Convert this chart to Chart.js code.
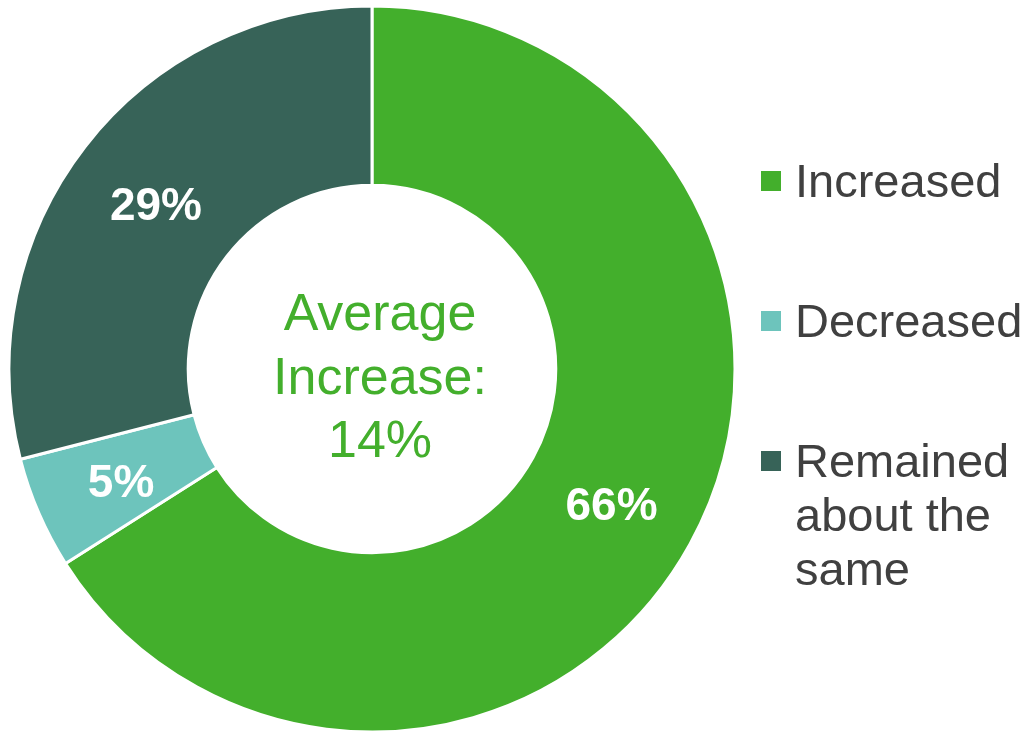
<!DOCTYPE html>
<html>
<head>
<meta charset="utf-8">
<script src="https://cdn.jsdelivr.net/npm/chart.js@4/dist/chart.umd.min.js"></script>
<style>
  body { margin: 0; background: #fff; }
  #wrap { width: 1027px; height: 732px; position: relative; }
</style>
</head>
<body>
<div id="wrap"><canvas id="donut" width="1027" height="732"></canvas></div>
<script>
const categories = ['Increased', 'Decreased', 'Remained about the same'];
const shares = [66, 5, 29];
const sliceColors = ['#43AF2C', '#6DC4BC', '#376358'];
const centerLines = ['Average', 'Increase:', '14%'];

const FONT = '"Liberation Sans", Arial, sans-serif';

// white bold percentage in the middle of each slice
const sliceLabels = {
    id: 'sliceLabels',
    afterDatasetsDraw(chart) {
        const ctx = chart.ctx;
        const arcs = chart.getDatasetMeta(0).data;
        ctx.save();
        ctx.fillStyle = '#fff';
        ctx.font = 'bold 46px ' + FONT;
        ctx.textAlign = 'center';
        ctx.textBaseline = 'alphabetic';
        arcs.forEach((arc, i) => {
            const p = arc.getCenterPoint();
            ctx.fillText(shares[i] + '%', p.x, p.y + 19);
        });
        ctx.restore();
    }
};

// text inside the hole (sits a little right of centre)
const centerText = {
    id: 'centerText',
    afterDatasetsDraw(chart) {
        const ctx = chart.ctx;
        const arc = chart.getDatasetMeta(0).data[0];
        ctx.save();
        ctx.fillStyle = '#43AF2C';
        ctx.font = '52px ' + FONT;
        ctx.textAlign = 'center';
        ctx.textBaseline = 'alphabetic';
        centerLines.forEach((line, i) => {
            ctx.fillText(line, arc.x + 8, arc.y - 39 + i * 63.5);
        });
        ctx.restore();
    }
};

// legend on the right, long labels wrap
function wrapText(ctx, text, maxWidth) {
    const words = text.split(' ');
    const lines = [];
    let cur = '';
    words.forEach(w => {
        const test = cur ? cur + ' ' + w : w;
        if (cur && ctx.measureText(test).width > maxWidth) {
            lines.push(cur);
            cur = w;
        } else {
            cur = test;
        }
    });
    if (cur) lines.push(cur);
    return lines;
}

const sideLegend = {
    id: 'sideLegend',
    afterDraw(chart) {
        const ctx = chart.ctx;
        const x0 = 761, textX = 795, firstBase = 197, step = 140, lineH = 54;
        ctx.save();
        ctx.font = '47px ' + FONT;
        ctx.textBaseline = 'alphabetic';
        chart.data.labels.forEach((label, i) => {
            const base = firstBase + i * step;
            ctx.fillStyle = chart.data.datasets[0].backgroundColor[i];
            ctx.fillRect(x0, base - 26, 20, 20);
            ctx.fillStyle = '#404040';
            wrapText(ctx, label, 1027 - textX - 2).forEach((line, j) => {
                ctx.fillText(line, textX, base + j * lineH);
            });
        });
        ctx.restore();
    }
};

new Chart(document.getElementById('donut'), {
    type: 'doughnut',
    data: {
        labels: categories,
        datasets: [{
            data: shares,
            backgroundColor: sliceColors,
            borderColor: '#fff',
            borderWidth: 3
        }]
    },
    options: {
        responsive: false,
        animation: false,
        radius: 363,
        cutout: 183,
        layout: { padding: { left: 0, right: 283, top: 6, bottom: 0 } },
        plugins: {
            legend: { display: false },
            tooltip: { enabled: false }
        }
    },
    plugins: [sliceLabels, centerText, sideLegend]
});
</script>
</body>
</html>
